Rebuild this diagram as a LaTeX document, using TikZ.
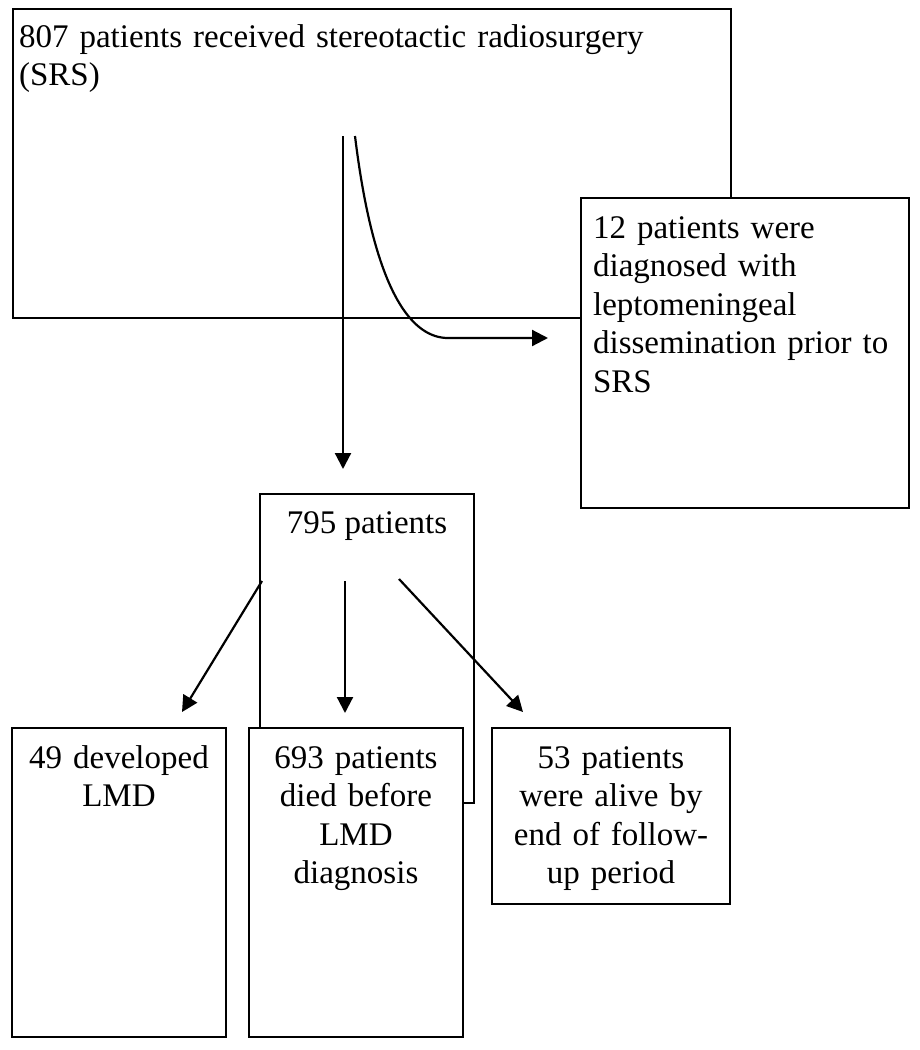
\documentclass[tikz,border=0pt]{standalone}
\usepackage{fontspec}
\setmainfont{Liberation Serif}
\usetikzlibrary{arrows.meta}

\begin{document}
\begin{tikzpicture}[x=1pt,y=-1pt,
  line width=2.2pt,
  box/.style={draw,fill=white,rectangle,anchor=north west,inner sep=0pt,outer sep=0pt},
  txt/.style={inner sep=0pt,font=\fontsize{33}{38.6}\selectfont},
  arr/.style={-{Triangle[length=16pt,width=16pt]}}]

  \useasboundingbox (0,0) rectangle (919,1050);

  \node[box,minimum width=718,minimum height=309] (srs) at (13,9) {};
  \node[box,minimum width=328,minimum height=310] (prior) at (581,198) {};

  \node[txt,anchor=base west,text width=700,align=left] (srstext) at (18,47)
    {807 patients received stereotactic radiosurgery\\(SRS)};
  \node[txt,anchor=base west,text width=320,align=left] (priortext) at (592,238)
    {12 patients were\\diagnosed with\\leptomeningeal\\dissemination prior to\\SRS};

  \coordinate (s1) at (343,136);
  \coordinate (e1) at (343,469);
  \coordinate (s2) at (355,136);
  \coordinate (e2) at (548,338);

  \draw[arr] (s1) -- (e1);
  \draw[arr] (s2) .. controls (375,300) and (415,338) .. (448,338) -- (e2);

  \node[box,minimum width=214,minimum height=309] (pool) at (260,494) {};
  \node[txt,anchor=base] (pooltext) at (367,533) {795 patients};

  \coordinate (a1) at (262,581);
  \coordinate (a2) at (345,581);
  \coordinate (a3) at (399,579);
  \coordinate (b1) at (182,712);
  \coordinate (b2) at (345,713);
  \coordinate (b3) at (523,712);

  \draw[arr] (a1) -- (b1);
  \draw[arr] (a2) -- (b2);
  \draw[arr] (a3) -- (b3);

  \node[box,minimum width=214,minimum height=309] (lmd) at (12,728) {};
  \node[box,minimum width=214,minimum height=309] (died) at (249,728) {};
  \node[box,minimum width=238,minimum height=176] (alive) at (492,728) {};

  \node[txt,anchor=base,text width=210,align=center] (lmdtext) at (119,768)
    {49 developed\\LMD};
  \node[txt,anchor=base,text width=210,align=center] (diedtext) at (356,768)
    {693 patients\\died before\\LMD\\diagnosis};
  \node[txt,anchor=base,text width=234,align=center] (alivetext) at (611,768)
    {53 patients\\were alive by\\end of follow-\\up period};

\end{tikzpicture}
\end{document}
